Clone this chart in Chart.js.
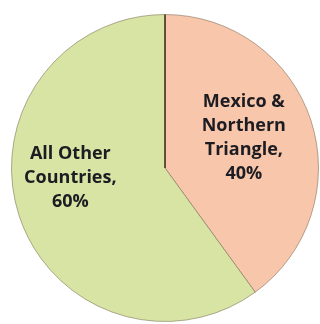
<!DOCTYPE html>
<html>
<head>
<meta charset="utf-8">
<script src="https://cdn.jsdelivr.net/npm/chart.js@4/dist/chart.umd.min.js"></script>
<style>
  html, body { margin: 0; padding: 0; background: #ffffff; }
  #wrap { width: 320px; height: 324px; }
</style>
</head>
<body>
<div id="wrap"><canvas id="c" width="320" height="324"></canvas></div>
<script>
const categories = ["Mexico & Northern Triangle", "All Other Countries"];
const labelLines = [["Mexico &", "Northern", "Triangle,", "40%"], ["All Other", "Countries,", "60%"]];
const shares = [40, 60];
const sliceColors = ["#F7C6AB", "#D8E4A3"];

const labelPlugin = {
  id: 'sliceLabels',
  afterDatasetsDraw(chart, args, opts) {
    const ctx = chart.ctx;
    const meta = chart.getDatasetMeta(0);
    // divider line along the start radius (top)
    const a0 = meta.data[0];
    ctx.save();
    ctx.strokeStyle = '#4a3a22';
    ctx.lineWidth = 1.6;
    ctx.beginPath();
    ctx.moveTo(a0.x, a0.y);
    ctx.lineTo(a0.x + a0.outerRadius * Math.cos(a0.startAngle), a0.y + a0.outerRadius * Math.sin(a0.startAngle));
    ctx.stroke();
    ctx.restore();

    meta.data.forEach((arc, i) => {
      const p = opts.positions[i];
      const ang = (p.angleDeg - 90) * Math.PI / 180;
      const r = arc.outerRadius * p.radiusFrac;
      const cx = arc.x + r * Math.cos(ang);
      const cy = arc.y + r * Math.sin(ang);
      const lines = labelLines[i];
      const lh = opts.lineHeight;
      ctx.save();
      ctx.fillStyle = '#1c1c22';
      ctx.font = opts.font;
      ctx.textAlign = 'center';
      ctx.textBaseline = 'middle';
      const start = cy - (lines.length - 1) * lh / 2;
      lines.forEach((t, k) => ctx.fillText(t, cx, start + k * lh));
      ctx.restore();
    });
  }
};

new Chart(document.getElementById('c'), {
  type: 'pie',
  data: {
    labels: categories,
    datasets: [{
      data: shares,
      backgroundColor: sliceColors,
      borderColor: 'rgba(120,105,80,0.55)',
      borderWidth: 1
    }]
  },
  options: {
    responsive: false,
    animation: false,
    layout: { padding: { left: 11, top: 14, right: 1, bottom: 2 } },
    plugins: {
      legend: { display: false },
      tooltip: { enabled: false },
      sliceLabels: {
        font: 'bold 18px "Open Sans", sans-serif',
        lineHeight: 24,
        positions: [
          { angleDeg: 69, radiusFrac: 0.55 },
          { angleDeg: 264, radiusFrac: 0.62 }
        ]
      }
    }
  },
  plugins: [labelPlugin]
});
</script>
</body>
</html>
